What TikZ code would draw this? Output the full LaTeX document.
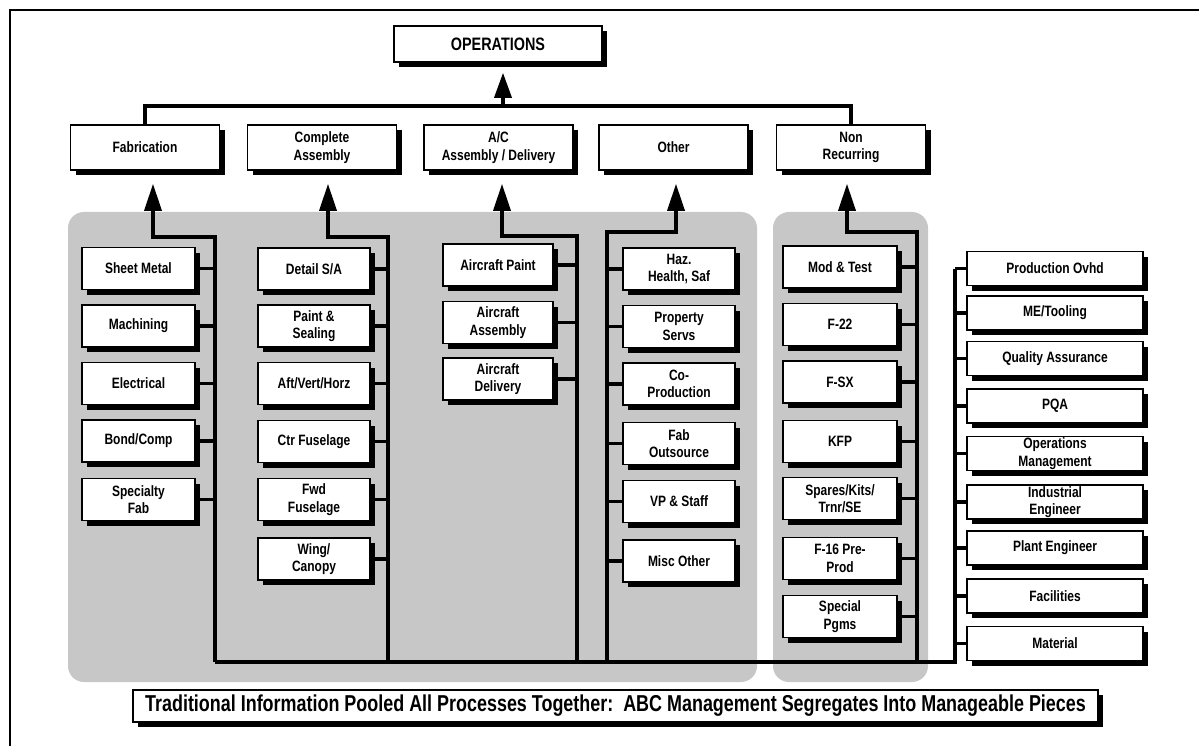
\documentclass[tikz,border=0pt]{standalone}
\usepackage{fontspec}
\setmainfont{Liberation Sans}[FakeStretch=0.8]
\newfontfamily\capfont{Liberation Sans}[FakeStretch=0.78]
\usetikzlibrary{arrows.meta,shadows}
\pgfdeclarelayer{back}
\pgfdeclarelayer{wires}
\pgfsetlayers{back,wires,main}
\newcommand{\lbl}{\fontsize{15}{17.5}\selectfont\bfseries}

\begin{document}
\begin{tikzpicture}[x=1pt,y=-1pt,
    box/.style={draw,line width=1.6pt,fill=white,align=center,inner sep=1pt,font=\lbl,
      drop shadow={shadow xshift=5pt,shadow yshift=-5pt,fill=black,opacity=1}},
    head/.style={box,minimum width=149pt,minimum height=45pt},
    item/.style={box,minimum width=112pt,minimum height=42pt},
    side/.style={box,minimum width=176pt,minimum height=34pt},
    wire/.style={line width=3.5pt},
    up/.style={wire,-{Triangle[length=27pt,width=17pt]}}]
    \useasboundingbox (0,0) rectangle (1199,746);
    \draw[line width=2pt] (10,746) -- (10,10) -- (1199,10);

    \node[box,minimum width=208pt,minimum height=36pt,font=\lbl\fontsize{18}{21}\selectfont] (ops) at (498,44) {OPERATIONS};

    \node[head] (fab) at (145,147.5) {Fabrication};
    \node[head] (comp) at (322,147.5) {Complete\\Assembly};
    \node[head] (ac) at (498.5,147.5) {A/C\\Assembly / Delivery};
    \node[head] (other) at (673.5,147.5) {Other};
    \node[head] (nonrec) at (851,147.5) {Non\\Recurring};

    \node[item,minimum width=113pt] (sheet) at (138.5,268.5) {Sheet Metal};
    \node[item,minimum width=113pt] (mach) at (138.5,326) {Machining};
    \node[item,minimum width=113pt] (elec) at (138.5,383.5) {Electrical};
    \node[item,minimum width=113pt] (bond) at (138.5,441) {Bond/Comp};
    \node[item,minimum width=113pt] (spec) at (138.5,499.5) {Specialty\\Fab};

    \node[item] (detail) at (314,269) {Detail S/A};
    \node[item] (paint) at (314,326) {Paint \&\\Sealing};
    \node[item] (aft) at (314,383.5) {Aft/Vert/Horz};
    \node[item] (ctr) at (314,441.5) {Ctr Fuselage};
    \node[item] (fwd) at (314,499.5) {Fwd\\Fuselage};
    \node[item] (wing) at (314,559) {Wing/\\Canopy};

    \node[item,minimum width=110pt] (acpaint) at (498,265) {Aircraft Paint};
    \node[item,minimum width=110pt] (acasm) at (498,322.5) {Aircraft\\Assembly};
    \node[item,minimum width=110pt] (acdel) at (498,379) {Aircraft\\Delivery};

    \node[item] (haz) at (679,269) {Haz.\\Health, Saf};
    \node[item] (prop) at (679,326.5) {Property\\Servs};
    \node[item] (coprod) at (679,384) {Co-\\Production};
    \node[item] (fabout) at (679,443.5) {Fab\\Outsource};
    \node[item] (vp) at (679,501.5) {VP \& Staff};
    \node[item] (misc) at (679,561) {Misc Other};

    \node[item,minimum width=114pt] (mod) at (840,267) {Mod \& Test};
    \node[item,minimum width=114pt] (f22) at (840,324.5) {F-22};
    \node[item,minimum width=114pt] (fsx) at (840,382) {F-SX};
    \node[item,minimum width=114pt] (kfp) at (840,441.5) {KFP};
    \node[item,minimum width=114pt] (spares) at (840,498.5) {Spares/Kits/\\Trnr/SE};
    \node[item,minimum width=114pt] (f16) at (840,558.5) {F-16 Pre-\\Prod};
    \node[item,minimum width=114pt] (pgms) at (840,616.5) {Special\\Pgms};

    \node[side] (povhd) at (1055,268.5) {Production Ovhd};
    \node[side] (tool) at (1055,313) {ME/Tooling};
    \node[side] (qa) at (1055,358.5) {Quality Assurance};
    \node[side] (pqa) at (1055,406) {PQA};
    \node[side] (opsmgmt) at (1055,453.5) {Operations\\Management};
    \node[side] (indeng) at (1055,502) {Industrial\\Engineer};
    \node[side] (plant) at (1055,548) {Plant Engineer};
    \node[side] (facil) at (1055,596) {Facilities};
    \node[side] (matl) at (1055,643.5) {Material};

    \node[box,minimum width=965pt,minimum height=32pt,font=\capfont\bfseries\fontsize{23}{27}\selectfont] (cap) at (615.5,706)
      {Traditional Information Pooled All Processes Together:\ \ ABC Management Segregates Into Manageable Pieces};

    \coordinate (bus) at (503,106);
    \coordinate (fabtop) at (215,237);
    \coordinate (fabbot) at (215,662);
    \coordinate (comptop) at (388,237);
    \coordinate (compbot) at (388,662);
    \coordinate (actop) at (577,236);
    \coordinate (acbot) at (577,662);
    \coordinate (othtop) at (607,232);
    \coordinate (othbot) at (607,662);
    \coordinate (nrtop) at (917,232);
    \coordinate (nrbot) at (917,662);
    \coordinate (sidebot) at (955,662);

    \begin{pgfonlayer}{back}
        \fill[black!22,rounded corners=16pt] (68,212) rectangle (757,682);
        \fill[black!22,rounded corners=16pt] (773,212) rectangle (928,682);
    \end{pgfonlayer}

    \begin{pgfonlayer}{wires}
        \draw[wire] (fab.north) |- (bus) -| (nonrec.north);
        \draw[up,-{Triangle[length=25pt,width=17pt]},shorten >=10pt] (bus) -- (bus |- ops.south);
        \draw[up,shorten >=13pt] (fabbot) -- (fabtop) -| ([xshift=8pt]fab.south);
        \draw[up,shorten >=13pt] (compbot) -- (comptop) -| ([xshift=6pt]comp.south);
        \draw[up,shorten >=13pt] (acbot) -- (actop) -| ([xshift=3.5pt]ac.south);
        \draw[up,shorten >=13pt] (othbot) -- (othtop) -| ([xshift=2.5pt]other.south);
        \draw[up,shorten >=13pt] (nrbot) -- (nrtop) -| ([xshift=-4pt]nonrec.south);
        \draw[wire] (fabbot) -- (sidebot) -- (sidebot |- povhd.west);
        \draw[wire] (sheet.east) -- (sheet.east -| fabbot) (mach.east) -- (mach.east -| fabbot)
            (elec.east) -- (elec.east -| fabbot) (bond.east) -- (bond.east -| fabbot)
            (spec.east) -- (spec.east -| fabbot);
        \draw[wire] (detail.east) -- (detail.east -| compbot) (paint.east) -- (paint.east -| compbot)
            (aft.east) -- (aft.east -| compbot) (ctr.east) -- (ctr.east -| compbot)
            (fwd.east) -- (fwd.east -| compbot) (wing.east) -- (wing.east -| compbot);
        \draw[wire] (acpaint.east) -- (acpaint.east -| acbot) (acasm.east) -- (acasm.east -| acbot)
            (acdel.east) -- (acdel.east -| acbot);
        \draw[wire] (haz.west) -- (haz.west -| othbot) (prop.west) -- (prop.west -| othbot)
            (coprod.west) -- (coprod.west -| othbot) (fabout.west) -- (fabout.west -| othbot)
            (vp.west) -- (vp.west -| othbot) (misc.west) -- (misc.west -| othbot);
        \draw[wire] (mod.east) -- (mod.east -| nrbot) (f22.east) -- (f22.east -| nrbot)
            (fsx.east) -- (fsx.east -| nrbot) (kfp.east) -- (kfp.east -| nrbot)
            (spares.east) -- (spares.east -| nrbot) (f16.east) -- (f16.east -| nrbot)
            (pgms.east) -- (pgms.east -| nrbot);
        \draw[wire] (povhd.west) -- (povhd.west -| sidebot) (tool.west) -- (tool.west -| sidebot)
            (qa.west) -- (qa.west -| sidebot) (pqa.west) -- (pqa.west -| sidebot)
            (opsmgmt.west) -- (opsmgmt.west -| sidebot) (indeng.west) -- (indeng.west -| sidebot)
            (plant.west) -- (plant.west -| sidebot) (facil.west) -- (facil.west -| sidebot)
            (matl.west) -- (matl.west -| sidebot);
    \end{pgfonlayer}
\end{tikzpicture}
\end{document}
